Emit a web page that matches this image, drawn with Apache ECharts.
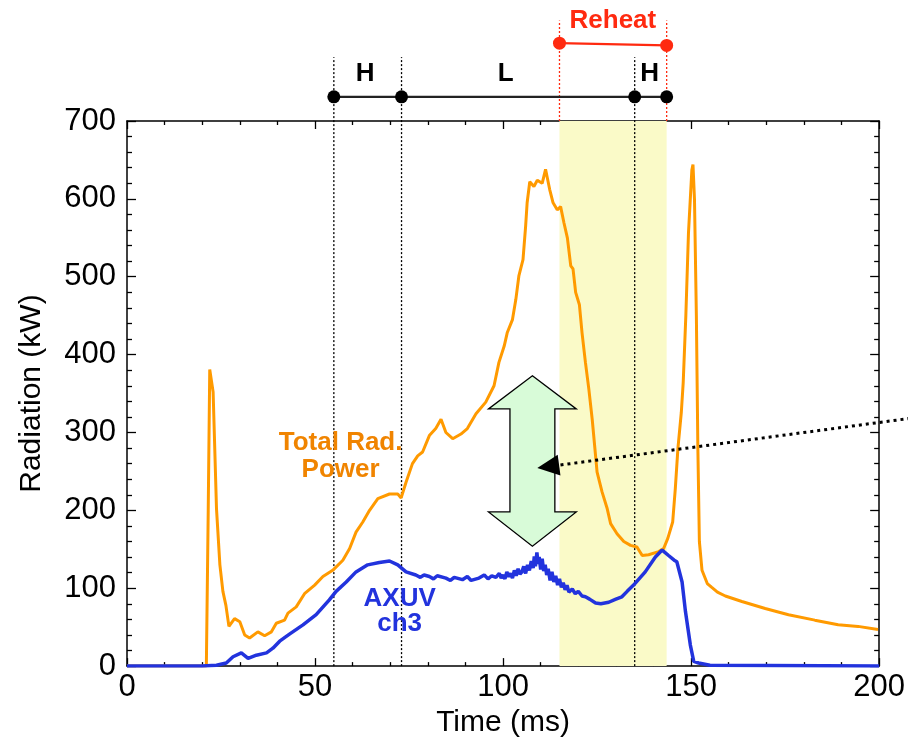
<!DOCTYPE html>
<html><head><meta charset="utf-8">
<script src="https://cdn.jsdelivr.net/npm/echarts/dist/echarts.min.js"></script>
<style>html,body{margin:0;padding:0;background:#fff}#c{width:908px;height:743px}</style>
</head><body><div id="c"></div>
<script>
// ---- data ----
const xTicks = [0, 50, 100, 150, 200];
const yTicks = [0, 100, 200, 300, 400, 500, 600, 700];

// Total radiated power (kW) vs time (ms)
const radT = [0,20,21.1,21.6,22.0,22.9,23.8,24.7,25.5,26.3,27.1,28.6,30.0,31.3,32.6,34.8,36.6,38.4,39.7,41.9,42.8,45.0,47.2,49.9,52.1,54.7,57.4,59.2,60.9,62.7,64.5,66.7,69.8,72.0,72.9,74.2,75.9,77.3,78.6,80.4,82.1,83.5,84.8,86.6,88.8,90.5,92.8,95.4,97.6,98.9,100.3,101.1,102.5,103.4,104.2,105.3,106.0,106.4,107.1,108.2,109.1,110.4,111.3,112.4,113.3,114.4,115.3,116.2,117.1,118.0,118.6,119.3,120.3,121.0,121.9,122.8,123.7,125.0,126.3,127.7,128.6,130.3,132.1,133.9,135.6,137.0,138.7,141.4,142.7,143.8,145.1,145.8,146.5,147.4,147.9,148.6,149.3,150.2,150.5,150.9,151.4,151.8,152.2,152.9,154.3,155.5,157.0,159.1,163.5,169.7,175.9,182.9,189.1,194.4,199.7];
const radY = [0,0,0,200,381,352,202,130,96,78,51,61,57,40,36,44,39,44,55,59,68,76,93,104,115,123,136,151,172,185,200,215,221,221,216,236,260,270,275,296,305,317,300,292,298,305,324,339,360,390,411,428,445,471,501,522,565,595,622,616,624,620,638,612,595,586,590,569,550,514,510,480,464,428,390,356,317,249,224,202,183,170,160,155,153,142,143,147,151,164,185,228,280,326,364,450,556,637,644,599,450,279,160,123,106,101,95,90,83,74,66,59,53,51,47];

// AXUV ch3 (kW) vs time (ms)
const axuvT = [0,20,23.8,26.4,28.2,30.4,32.2,34.4,37.1,38.8,40.6,43.2,46.8,50.3,53.8,55.6,58.3,60.9,64.0,67.1,69.8,72.0,74.2,76.8,78,79,80.4,81.5,82.5,84.8,86,87,89.2,90.5,91.5,93.6,95,96,97,98.1,99,99.5,100,100.5,101,101.5,102,102.5,103,103.5,104,104.5,105,105.5,106,106.5,107,107.5,108,108.3,108.6,109,109.3,109.6,110,110.4,110.8,111.2,111.6,112,112.5,113,113.5,114,114.5,115,115.5,116,116.5,117,117.5,118.4,119.2,120,121,121.9,123,124.6,126,128.1,130,131.6,133,134.7,137.8,140.5,142.3,144,145.5,146.2,147.6,148.5,149.8,150.7,152,155,200];
const axuvY = [0,0,1,4,12,17,10,14,17,23,32,41,53,66,85,96,108,121,130,133,135,130,121,117,114,117,115,112,116,113,110,114,111,115,110,113,117,112,116,114,119,113,117,112,121,115,119,113,123,116,125,118,121,128,119,130,123,135,126,141,128,146,131,140,124,138,122,130,117,125,110,121,108,116,104,112,101,107,98,104,95,99,93,96,90,89,86,81,80,82,86,89,96,104,121,140,149,142,136,134,108,70,27,6,4,1,0];

// annotation positions (data units)
const phaseT = [55, 73, 135, 143.5];        // H | L | H boundaries
const phaseLabels = ['H', 'L', 'H'];
const phaseLabelT = [63.3, 100.7, 139.0];
const reheatT = [115, 143.5];

// ---- build ----
const FONT = '"Liberation Sans", Arial, Helvetica, sans-serif';
const radData = radT.map((t, i) => [t, radY[i]]);
const axuvData = axuvT.map((t, i) => [t, axuvY[i]]);

const lineBarY = 731, dotTopY = 782, redBarY = [800, 797], redTopY = 829;
const arrow = {x: 107.8, top: 372.8, headTop: 330.2, headBot: 198, bot: 154, head: 11.67, shaft: 5.97};
const pointer = {from: [212, 320.6], to: [109.1, 254.3]};

const series = [];
// yellow reheat band
series.push({
  type: 'custom', z: 1, clip: false, data: [[0]], silent: true,
  renderItem: (p, api) => {
    const a = api.coord([reheatT[0], 700]);
    const b = api.coord([reheatT[1], 0]);
    return {type: 'rect', shape: {x: a[0], y: a[1], width: b[0] - a[0], height: b[1] - a[1]}, style: {fill: '#fafac8'}};
  }
});
// black vertical dotted lines (55, 73, 135)
phaseT.slice(0, 3).forEach(t => series.push({
  type: 'line', z: 3, clip: false, symbol: 'none', silent: true,
  data: [[t, 0], [t, dotTopY]],
  lineStyle: {color: '#000', width: 1.3, type: [2, 2]}
}));
// red vertical dotted lines
reheatT.forEach(t => series.push({
  type: 'line', z: 3, clip: false, symbol: 'none', silent: true,
  data: [[t, 700], [t, redTopY]],
  lineStyle: {color: '#ff2a10', width: 1.3, type: [2, 2]}
}));
// curves
series.push({
  name: 'Total Rad. Power', type: 'line', z: 5, symbol: 'none', data: radData,
  lineStyle: {color: '#ff9a00', width: 3}
});
series.push({
  name: 'AXUV ch3', type: 'line', z: 5, symbol: 'none', data: axuvData,
  lineStyle: {color: '#2233dd', width: 3.5}
});
// H/L bar
series.push({
  type: 'line', z: 6, clip: false, silent: true,
  data: phaseT.map(t => [t, lineBarY]),
  symbol: 'circle', symbolSize: 13,
  itemStyle: {color: '#000'}, lineStyle: {color: '#222', width: 2.2}
});
// Reheat bar
series.push({
  type: 'line', z: 6, clip: false, silent: true,
  data: reheatT.map((t, i) => [t, redBarY[i]]),
  symbol: 'circle', symbolSize: 13,
  itemStyle: {color: '#ff2a10'}, lineStyle: {color: '#ff2a10', width: 2.2}
});
// green double arrow
series.push({
  type: 'custom', z: 8, clip: false, data: [[0]], silent: true,
  renderItem: (p, api) => {
    const c = arrow, P = (x, y) => api.coord([x, y]);
    const pts = [P(c.x, c.top), P(c.x + c.head, c.headTop), P(c.x + c.shaft, c.headTop), P(c.x + c.shaft, c.headBot),
      P(c.x + c.head, c.headBot), P(c.x, c.bot), P(c.x - c.head, c.headBot), P(c.x - c.shaft, c.headBot),
      P(c.x - c.shaft, c.headTop), P(c.x - c.head, c.headTop)];
    return {type: 'polygon', shape: {points: pts}, style: {fill: '#d8fbd8', stroke: '#000', lineWidth: 1.3}};
  }
});
// dotted pointer arrow
series.push({
  type: 'custom', z: 9, clip: false, data: [[0]], silent: true,
  renderItem: (p, api) => {
    const a = api.coord(pointer.from), b = api.coord(pointer.to);
    const dx = a[0] - b[0], dy = a[1] - b[1], L = Math.hypot(dx, dy), ux = dx / L, uy = dy / L;
    const len = 22, hw = 10.5;
    const base = [b[0] + ux * len, b[1] + uy * len];
    return {type: 'group', children: [
      {type: 'line', shape: {x1: a[0], y1: a[1], x2: base[0], y2: base[1]}, style: {stroke: '#000', lineWidth: 3, lineDash: [3, 4]}},
      {type: 'polygon', shape: {points: [b, [base[0] - uy * hw, base[1] + ux * hw], [base[0] + uy * hw, base[1] - ux * hw]]}, style: {fill: '#000'}}
    ]};
  }
});
// text annotations
const texts = [
  {t: 'Total Rad.\nPower', x: 56.8, y: 269.4, color: '#f08400', lh: 27},
  {t: 'AXUV\nch3', x: 72.5, y: 70.4, color: '#2233dd', lh: 25},
  {t: 'Reheat', x: 129.2, y: 828, color: '#ff2a10', lh: 26}
].concat(phaseLabels.map((s, i) => ({t: s, x: phaseLabelT[i], y: 760, color: '#000', lh: 26})));
series.push({
  type: 'custom', z: 10, clip: false, silent: true, data: texts.map((d, i) => [i]),
  renderItem: (p, api) => {
    const d = texts[p.dataIndex];
    const c = api.coord([d.x, d.y]);
    return {type: 'text', x: c[0], y: c[1], style: {text: d.t, fill: d.color, font: 'bold 26px ' + FONT,
      align: 'center', verticalAlign: 'middle', lineHeight: d.lh}};
  }
});

const axisLine = {show: true, onZero: false, lineStyle: {color: '#000', width: 1.5}};
const tickStyle = {lineStyle: {color: '#000', width: 1.3}};
const option = {
  animation: false,
  backgroundColor: '#fff',
  grid: {left: 127, right: 27, top: 121, bottom: 75, containLabel: false},
  xAxis: [
    {type: 'value', min: xTicks[0], max: xTicks[xTicks.length - 1], interval: 50, position: 'bottom',
      name: 'Time (ms)', nameLocation: 'middle', nameGap: 36,
      nameTextStyle: {fontFamily: FONT, fontSize: 30, color: '#000'},
      axisLine, axisTick: Object.assign({inside: true, length: 8}, tickStyle),
      minorTick: Object.assign({show: true, splitNumber: 5, length: 4}, tickStyle),
      axisLabel: {fontFamily: FONT, fontSize: 31, color: '#000', margin: 6},
      splitLine: {show: false}},
    {type: 'value', min: xTicks[0], max: xTicks[xTicks.length - 1], interval: 50, position: 'top',
      axisLine, axisTick: Object.assign({inside: true, length: 8}, tickStyle),
      minorTick: Object.assign({show: true, splitNumber: 5, length: 4}, tickStyle),
      axisLabel: {show: false}, splitLine: {show: false}}
  ],
  yAxis: [
    {type: 'value', min: yTicks[0], max: yTicks[yTicks.length - 1], interval: 100, position: 'left',
      name: 'Radiation (kW)', nameLocation: 'middle', nameGap: 80,
      nameTextStyle: {fontFamily: FONT, fontSize: 30, color: '#000'},
      axisLine, axisTick: Object.assign({inside: true, length: 9}, tickStyle),
      minorTick: Object.assign({show: true, splitNumber: 5, length: 5}, tickStyle),
      axisLabel: {fontFamily: FONT, fontSize: 31, color: '#000', margin: 11},
      splitLine: {show: false}},
    {type: 'value', min: yTicks[0], max: yTicks[yTicks.length - 1], interval: 100, position: 'right',
      axisLine, axisTick: Object.assign({inside: true, length: 9}, tickStyle),
      minorTick: Object.assign({show: true, splitNumber: 5, length: 5}, tickStyle),
      axisLabel: {show: false}, splitLine: {show: false}}
  ],
  series
};
const chart = echarts.init(document.getElementById('c'), null, {renderer: 'canvas'});
chart.setOption(option);
</script>
</body></html>
